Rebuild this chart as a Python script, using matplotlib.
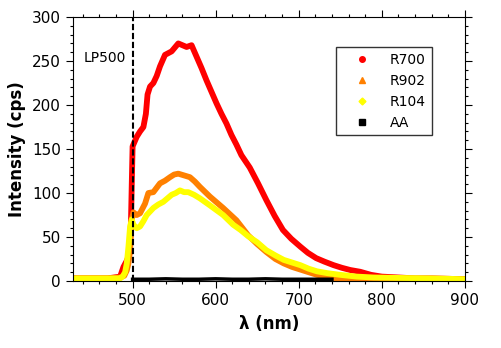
import matplotlib
matplotlib.use('Agg')
import matplotlib.pyplot as plt
from matplotlib.lines import Line2D
from matplotlib.ticker import MultipleLocator

# wavelengths (nm) and intensities (cps)
wl_r700 = [430, 450, 470, 485, 489, 493, 496, 497, 498, 499, 500, 505, 509, 513, 516,
           518, 521, 525, 529, 533, 539, 547, 555, 560, 565, 571, 577, 583, 589, 595,
           601, 607, 613, 619, 625, 631, 641, 651, 661, 671, 681, 691, 702, 711, 721,
           731, 742, 752, 762, 774, 787, 800, 820, 840, 860, 880, 900]
r700 = [3, 3, 3, 5, 16, 23, 30, 45, 65, 110, 153, 164, 170, 175, 190,
        212, 221, 225, 233, 244, 257, 261, 270, 268, 266, 268, 255, 242, 228, 215,
        202, 190, 179, 166, 155, 143, 129, 111, 92, 74, 58, 48, 39, 32, 26,
        22, 18, 15, 12.5, 10.5, 7, 5, 4, 3, 3, 2.5, 2]

wl_r902 = [430, 450, 470, 485, 490, 493, 495, 497, 498, 499, 501, 505, 509, 515, 519,
           525, 533, 539, 545, 550, 555, 562, 569, 575, 581, 593, 609, 625, 639, 650,
           661, 672, 682, 692, 702, 712, 722, 734, 745, 760, 780, 800, 830, 860, 900]
r902 = [3, 3, 3, 4, 6, 12, 20, 35, 55, 70, 78, 75, 77, 88, 100,
        101, 111, 114, 118, 121, 122, 120, 118, 113, 107, 96, 83, 69, 52, 42,
        33, 25, 20, 16, 13, 10, 7, 5, 3, 2.5, 2.5, 2, 2, 2, 2]

wl_r104 = [430, 450, 470, 485, 488, 491, 493, 495, 497, 499, 501, 505, 509, 513, 517,
           525, 531, 537, 547, 552, 557, 562, 567, 574, 581, 593, 609, 621, 630, 639,
           650, 661, 672, 682, 692, 702, 712, 722, 734, 750, 770, 790, 820, 860, 900]
r104 = [3, 3, 3, 3, 5, 10, 20, 39, 62, 70, 64, 60, 62, 68, 75,
        83, 87, 90, 98, 100, 103, 101, 101, 98, 94, 86, 75, 64, 58, 51,
        44, 35, 29, 24, 21, 18, 14, 11, 9, 7, 5, 4, 3.5, 3, 2]

wl_aa = [500, 520, 540, 560, 580, 600, 620, 640, 660, 680, 700, 720, 740]
aa = [2, 2, 2.5, 2, 2, 2.5, 2, 2, 2.5, 2, 2, 2, 2]

labels = ['R700', 'R902', 'R104', 'AA']
colors = ['#ff0000', '#ff8000', '#ffff00', '#000000']
markers = ['o', '^', 'D', 's']

plt.rcParams['font.family'] = 'DejaVu Sans'

fig = plt.figure(figsize=(5.02, 3.48), dpi=100)
ax = fig.add_axes([0.145, 0.1925, 0.781, 0.7585])

series = [(wl_r700, r700), (wl_r902, r902), (wl_r104, r104)]
for (x, y), c in zip(series, colors[:3]):
    ax.plot(x, y, color=c, lw=4.2, solid_capstyle='round', solid_joinstyle='round', zorder=2)
ax.plot(wl_aa, aa, color='black', lw=2.5, zorder=3)

ax.plot([500, 500], [0, 300], color='black', lw=1.5, dashes=(3, 1.3), zorder=5)
ax.text(492, 254, 'LP500', ha='right', va='center', fontsize=10)

ax.set_xlim(428, 900)
ax.set_ylim(0, 300)
ax.xaxis.set_major_locator(MultipleLocator(100))
ax.xaxis.set_minor_locator(MultipleLocator(20))
ax.yaxis.set_major_locator(MultipleLocator(50))
ax.yaxis.set_minor_locator(MultipleLocator(10))
ax.tick_params(which='both', direction='out', top=True, right=True, labelsize=11, width=0.8)
ax.tick_params(which='major', length=5)
ax.tick_params(which='minor', length=2.5)
for s in ax.spines.values():
    s.set_linewidth(0.8)

ax.set_xlabel('λ (nm)', fontsize=12, fontweight='bold', labelpad=5)
ax.set_ylabel('Intensity (cps)', fontsize=12, fontweight='bold', labelpad=4)

handles = [Line2D([], [], linestyle='none', marker=m, color=c, markersize=4 if m != 'D' else 3.5)
           for m, c in zip(markers, colors)]
leg = ax.legend(handles, labels, loc='upper left', bbox_to_anchor=(0.671, 0.886),
                fontsize=10, frameon=True, fancybox=False, edgecolor='black',
                handlelength=3.0, handletextpad=0.5, borderpad=0.4, labelspacing=0.5,
                borderaxespad=0)
leg.get_frame().set_linewidth(1.0)

fig.savefig('out.png', dpi=100)
